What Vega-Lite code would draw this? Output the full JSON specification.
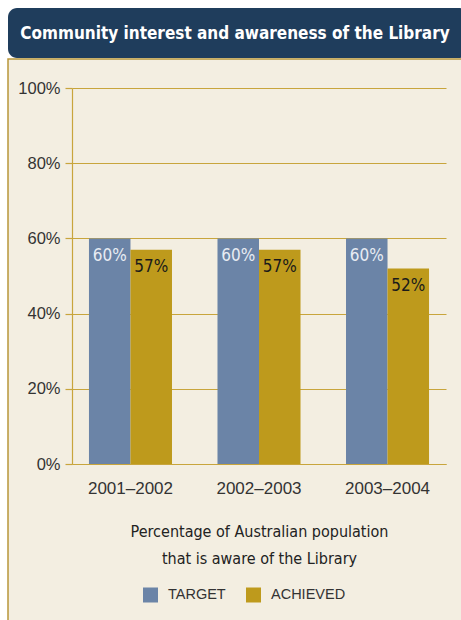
{
  "$schema": "https://vega.github.io/schema/vega-lite/v6.json",
  "background": "#FFFFFF",
  "padding": {"left": 7, "top": 8, "right": 0, "bottom": 0},
  "spacing": 0,
  "config": {"concat": {"spacing": 0}},
  "vconcat": [
    {
      "width": 460,
      "height": 50,
      "view": {"fill": "#1F3D5C", "stroke": null, "cornerRadius": 9},
      "data": {"values": [{"heading": "Community interest and awareness of the Library"}]},
      "mark": {"type": "text", "font": "DejaVu Sans Condensed", "fontWeight": "bold", "fontSize": 17, "color": "#FFFFFF", "baseline": "alphabetic", "dy": 6, "dx": -3},
      "encoding": {"text": {"field": "heading"}}
    },
    {
      "width": 460,
      "height": 570,
      "view": {"fill": "#F3EEE1", "stroke": "#B8963A", "strokeWidth": 1.5},
      "data": {"values": [
        {"period": "2001–2002", "series": "TARGET", "value": 0.60},
        {"period": "2001–2002", "series": "ACHIEVED", "value": 0.57},
        {"period": "2002–2003", "series": "TARGET", "value": 0.60},
        {"period": "2002–2003", "series": "ACHIEVED", "value": 0.57},
        {"period": "2003–2004", "series": "TARGET", "value": 0.60},
        {"period": "2003–2004", "series": "ACHIEVED", "value": 0.52}
      ]},
      "encoding": {
        "x": {
          "field": "period", "type": "nominal", "sort": null,
          "scale": {"range": [64, 438], "paddingInner": 0.354, "paddingOuter": 0.132},
          "axis": {
            "orient": "bottom", "offset": -165, "ticks": false, "tickSize": 0,
            "domainColor": "#C8A53C", "domainWidth": 1.2,
            "labelFont": "Liberation Sans", "labelFontSize": 17, "labelColor": "#333333", "labelPadding": 16, "labelAngle": 0,
            "title": ["Percentage of Australian population", "that is aware of the Library"],
            "titleFont": "DejaVu Sans Condensed", "titleFontSize": 16, "titleFontWeight": "normal", "titleColor": "#222222",
            "titleBaseline": "alphabetic", "titleY": 72, "titleLineHeight": 27
          }
        },
        "xOffset": {"field": "series", "type": "nominal", "scale": {"domain": ["TARGET", "ACHIEVED"], "paddingInner": 0, "paddingOuter": 0}},
        "y": {
          "field": "value", "type": "quantitative", "stack": null,
          "scale": {"domain": [0, 1], "range": [405, 29], "nice": false},
          "axis": {
            "offset": -64, "values": [0, 0.2, 0.4, 0.6, 0.8, 1], "format": ".0%",
            "domainColor": "#C8A53C", "domainWidth": 1.2,
            "tickColor": "#C8A53C", "tickSize": 7, "tickWidth": 1.2,
            "gridColor": "#C8A53C", "gridWidth": 1.2,
            "labelFont": "Liberation Sans", "labelFontSize": 16.5, "labelColor": "#333333", "labelPadding": 5,
            "title": null
          }
        }
      },
      "layer": [
        {
          "mark": {"type": "bar", "width": {"band": 1}},
          "encoding": {
            "color": {
              "field": "series", "type": "nominal",
              "scale": {"domain": ["TARGET", "ACHIEVED"], "range": ["#6B84A7", "#BE9A1C"]},
              "legend": {
                "orient": "none", "legendX": 135, "legendY": 579.5, "direction": "horizontal", "title": null,
                "symbolType": "square", "symbolSize": 225, "symbolStrokeWidth": 0,
                "labelFont": "Liberation Sans", "labelFontSize": 14.5, "labelColor": "#333333",
                "labelOffset": 10, "columnPadding": 20, "padding": 0
              }
            }
          }
        },
        {
          "mark": {"type": "text", "font": "DejaVu Sans Condensed", "fontSize": 17, "baseline": "alphabetic", "dy": 22.5},
          "encoding": {
            "text": {"field": "value", "type": "quantitative", "format": ".0%"},
            "color": {"condition": {"test": "datum.series === 'TARGET'", "value": "#E8ECF3"}, "value": "#1A1A1A"}
          }
        }
      ]
    }
  ]
}
